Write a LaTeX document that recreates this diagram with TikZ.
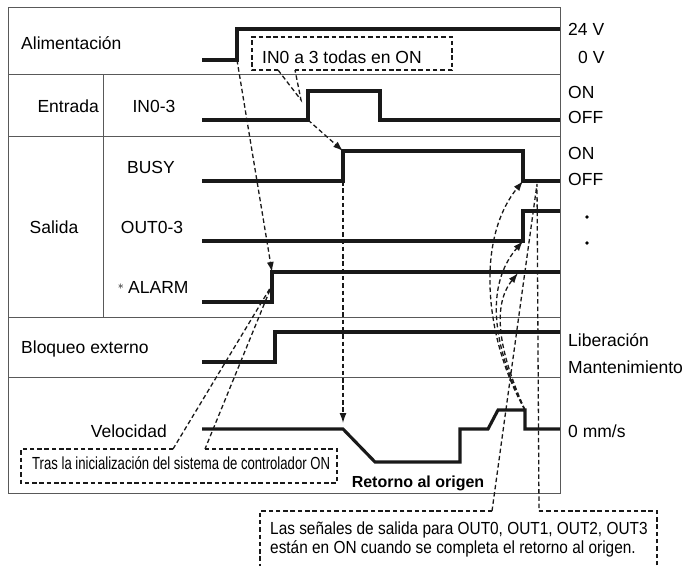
\documentclass[tikz,border=0pt]{standalone}
\usepackage{fontspec}
\setmainfont{Liberation Sans}
\usepackage{graphicx}
\usetikzlibrary{positioning,arrows.meta,calc}

\begin{document}
\begin{tikzpicture}[x=1pt,y=-1pt,
    sig/.style={line width=3.1pt,black!90},
    frame/.style={draw=black!65,line width=1pt},
    guide/.style={black!90,line width=1.3pt,dash pattern=on 4.5pt off 2.8pt},
    tip/.style={-{Latex[length=10pt,width=7pt]}},
    lbl/.style={font=\fontsize{17.5}{20}\selectfont,inner sep=0pt}]
  \useasboundingbox (0,0) rectangle (692,565);

  % key points of the signals
  \coordinate (pwrUp) at (237,60);
  \coordinate (inUp) at (308,120);
  \coordinate (busyUpT) at (343,151);
  \coordinate (busyUpB) at (343,181);
  \coordinate (busyDn) at (523,181);
  \coordinate (outUp) at (523,241);
  \coordinate (alarmUp) at (272,272);
  \coordinate (alarmPt) at (518,273);
  \coordinate (velDec) at (343,429);
  \coordinate (velEnd) at (525,410);

  % signals
  \draw[sig] (202,60) -- (pwrUp) -- (237,29) -- (560,29);
  \draw[sig] (202,120) -- (inUp) -- (308,91) -- (380,91) -- (380,120) -- (560,120);
  \draw[sig] (202,181) -- (busyUpB) -- (busyUpT) -- (523,151) -- (busyDn) -- (560,181);
  \draw[sig] (202,241) -- (outUp) -- (523,211) -- (560,211);
  \draw[sig] (202,302) -- (272,302) -- (alarmUp) -- (560,272);
  \draw[sig] (202,362) -- (275,362) -- (275,332) -- (560,332);
  \draw[sig] (202,429) -- (velDec) -- (375,462) -- (460,462) -- (460,429)
    -- (488,429) -- (498,410) -- (velEnd) -- (525,429) -- (560,429);

  % table frame
  \draw[frame] (8,7) rectangle (560,493);
  \foreach \y in {74,136,317,377}
    \draw[frame] (8,\y) -- (560,\y);
  \draw[frame] (103,74) -- (103,317);

  % row labels
  \node[lbl,anchor=base west] (alim) at (21,49) {Alimentación};
  \node[lbl,anchor=base east] (entr) at (99,112) {Entrada};
  \node[lbl,anchor=base] (in03) at (154,112) {IN0-3};
  \node[lbl,anchor=base] (sal) at (54,233) {Salida};
  \node[lbl,anchor=base] (busy) at (151,173) {BUSY};
  \node[lbl,anchor=base] (out03) at (152,233) {OUT0-3};
  \node[lbl,anchor=base west] (alarm) at (128,293) {ALARM};
  \node[left=4pt of alarm,inner sep=0pt,font=\fontsize{13}{13}\selectfont] (ast) {$\ast$};
  \node[lbl,anchor=base west] (bloq) at (21,353) {Bloqueo externo};
  \node[lbl,anchor=base east] (vel) at (167,437) {Velocidad};

  % level labels
  \foreach \name/\x/\y/\txt in {v24/568/35/24 V,v0/578/63/0 V,inOn/568/98/ON,
      inOff/568/123/OFF,busyOn/568/159/ON,busyOff/568/185/OFF,
      libr/568/346/Liberación,mant/568/373/Mantenimiento}
    \node[lbl,anchor=base west] (\name) at (\x,\y) {\txt};
  \node[lbl,anchor=base west] (zero) at (568,437) {0 mm/s};
  \node[circle,fill,inner sep=1.3pt] (dotA) at (587,217) {};
  \node[circle,fill,inner sep=1.3pt] (dotB) at (587,243) {};

  % timing arrows
  \draw[guide,tip] (pwrUp) -- (alarmUp);
  \draw[guide,tip] (inUp) -- (busyUpT);
  \draw[guide,tip,shorten >=6pt] (busyUpB) -- (velDec);
  \draw[guide,tip] (velEnd) .. controls (485,340) and (475,240) .. (busyDn);
  \draw[guide,tip] (velEnd) .. controls (492,345) and (485,285) .. (outUp);
  \draw[guide,tip] (velEnd) .. controls (498,350) and (492,305) .. (alarmPt);

  % callout: inputs on
  \node[lbl,anchor=base west] (cINtxt) at (262,63) {IN0 a 3 todas en ON};
  \coordinate (cINnw) at (252,37);
  \coordinate (cINse) at (452,70);
  \coordinate (cINa) at (278,70);
  \coordinate (cINb) at (295,70);
  \coordinate (cINtip) at (301,100);
  \draw[guide] (cINa) -| (cINnw) -| (cINse) -- (cINb);
  \draw[guide] (cINa) -- (cINtip) -- (cINb);

  % callout: controller init
  \node[lbl,anchor=base west] (cItxt) at (32,469)
    {\scalebox{0.75}[1]{Tras la inicialización del sistema de controlador ON}};
  \coordinate (cInw) at (21,449);
  \coordinate (cIse) at (337,483);
  \coordinate (cIa) at (173,449);
  \coordinate (cIb) at (205,449);
  \coordinate (cItip) at (272,285);
  \draw[guide] (cIa) -- (cInw) |- (cIse) |- (cIb);
  \draw[guide] (cIa) -- (cItip) -- (cIb);

  \node[anchor=base,inner sep=0pt,font=\fontsize{16}{18}\selectfont\bfseries]
    (ret) at (418,487) {Retorno al origen};

  % callout: outputs on
  \node[lbl,anchor=base west] (cOtxtA) at (270,534)
    {\scalebox{0.88}[1]{Las señales de salida para OUT0, OUT1, OUT2, OUT3}};
  \node[lbl,anchor=base west] (cOtxtB) at (270,553)
    {\scalebox{0.88}[1]{están en ON cuando se completa el retorno al origen.}};
  \coordinate (cOnw) at (260,511);
  \coordinate (cOse) at (657,585);
  \coordinate (cOa) at (492,511);
  \coordinate (cOb) at (539,511);
  \coordinate (cOtip) at (537,184);
  \draw[guide] (cOa) -- (cOnw) |- (cOse) |- (cOb);
  \draw[guide] (cOa) -- (cOtip) -- (cOb);
\end{tikzpicture}
\end{document}
